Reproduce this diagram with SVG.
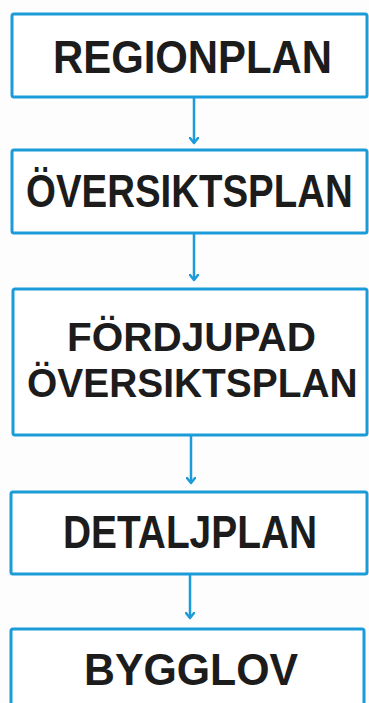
<svg xmlns="http://www.w3.org/2000/svg" width="369" height="703" viewBox="0 0 369 703">
<defs>
<style>
.box{fill:#ffffff;stroke:#1b9bd7;stroke-width:3}
.lbl{font-family:"Liberation Sans",Arial,sans-serif;font-weight:bold;fill:#1c1c1c}
.conn{stroke:#1b9bd7;stroke-width:2.5;fill:none}
</style>
<marker id="arr" markerWidth="8" markerHeight="10" refX="6.5" refY="5" orient="auto" markerUnits="userSpaceOnUse" viewBox="0 0 8 10">
<path d="M1.5,1 L6.5,5 L1.5,9" fill="none" stroke="#1b9bd7" stroke-width="2.5" stroke-linecap="round" stroke-linejoin="round"/>
</marker>
</defs>
<rect width="369" height="703" fill="#fdfdfd"/>
<g id="connectors">
<line class="conn" x1="194" y1="97" x2="194" y2="143" marker-end="url(#arr)"/>
<line class="conn" x1="194" y1="233" x2="194" y2="280" marker-end="url(#arr)"/>
<line class="conn" x1="191" y1="435" x2="191" y2="483" marker-end="url(#arr)"/>
<line class="conn" x1="190" y1="574" x2="190" y2="618" marker-end="url(#arr)"/>
</g>
<g id="regionplan">
<rect class="box" x="12" y="14" width="355" height="83" rx="2"/>
<text class="lbl" x="53" y="73" font-size="46" textLength="279" lengthAdjust="spacingAndGlyphs">REGIONPLAN</text>
</g>
<g id="oversiktsplan">
<rect class="box" x="12" y="150" width="355" height="83" rx="2"/>
<text class="lbl" transform="translate(26,207) scale(0.84,1)" x="0" y="0" font-size="46" textLength="389" lengthAdjust="spacingAndGlyphs">ÖVERSIKTSPLAN</text>
</g>
<g id="fordjupad">
<rect class="box" x="13" y="289" width="354" height="146" rx="2"/>
<text class="lbl" x="67" y="351" font-size="41" textLength="249" lengthAdjust="spacingAndGlyphs">FÖRDJUPAD</text>
<text class="lbl" transform="translate(27,397) scale(0.95,1)" x="0" y="0" font-size="41" textLength="348" lengthAdjust="spacingAndGlyphs">ÖVERSIKTSPLAN</text>
</g>
<g id="detaljplan">
<rect class="box" x="11" y="492" width="356" height="82" rx="2"/>
<text class="lbl" x="63" y="548" font-size="47" textLength="254" lengthAdjust="spacingAndGlyphs">DETALJPLAN</text>
</g>
<g id="bygglov">
<rect class="box" x="11" y="629" width="353" height="90" rx="2"/>
<text class="lbl" x="84" y="685" font-size="45" textLength="214" lengthAdjust="spacingAndGlyphs">BYGGLOV</text>
</g>
</svg>
